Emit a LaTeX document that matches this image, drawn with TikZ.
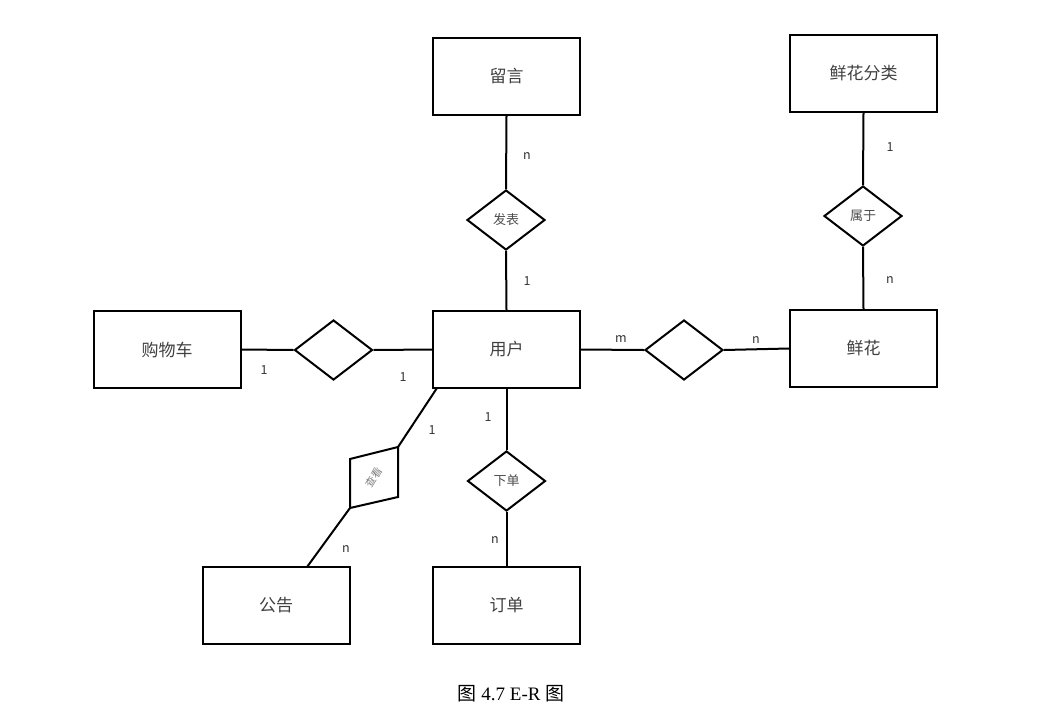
\documentclass[tikz,border=0pt]{standalone}
\usepackage{fontspec}
\setmainfont{Liberation Serif}
\newfontfamily\cjk{Noto Sans CJK SC}
\usetikzlibrary{shapes.geometric}
\begin{document}
\begin{tikzpicture}[x=1pt,y=-1pt,
  ent/.style={draw,line width=2pt,minimum width=147pt,minimum height=77pt,inner sep=0pt,font=\cjk\fontsize{17}{17}\selectfont,text=black!75},
  rel/.style={draw,line width=2pt,diamond,aspect=1.3,minimum width=78pt,minimum height=60pt,inner sep=0pt,font=\cjk\fontsize{13}{13}\selectfont,text=black!70},
  conn/.style={line width=2pt},
  lab/.style={font=\cjk\fontsize{12.5}{12.5}\selectfont,text=black!80}]
\useasboundingbox (0,0) rectangle (1042,710);
% entities
\node[ent] (ly) at (506.5,76.5) {留言};
\node[ent] (fl) at (863.5,73.5) {鲜花分类};
\node[ent] (gwc) at (167,349.5) {购物车};
\node[ent] (yh) at (506.5,349.5) {用户};
\node[ent] (xh) at (863.5,348.5) {鲜花};
\node[ent] (gg) at (276,605.5) {公告};
\node[ent] (dd) at (506.5,605.5) {订单};
% relationships
\node[rel] (fb) at (506,220) {发表};
\node[rel] (sy) at (863,216) {属于};
\node[rel] (r1) at (333.5,350) {};
\node[rel] (r2) at (684,350) {};
\node[rel] (xd) at (506.5,481) {下单};
% skewed diamond
\coordinate (ck1) at (398,447);
\coordinate (ck2) at (398,497);
\coordinate (ck3) at (350,508);
\coordinate (ck4) at (350,459);
\draw[line width=2pt,line join=miter] (ck1) -- (ck2) -- (ck3) -- (ck4) -- cycle;
\node[font=\cjk\fontsize{10.5}{10.5}\selectfont,text=black!50,rotate=58,inner sep=0pt] (ck) at (374,477.5) {查看};
\coordinate (yhc) at (437,388);
\coordinate (ggc) at (307,567);
% connectors
\draw[conn] (ly.south) -- (fb.north);
\draw[conn] (fb.south) -- (yh.north);
\draw[conn] (fl.south) -- (sy.north);
\draw[conn] (sy.south) -- (xh.north);
\draw[conn] (gwc.east) -- (r1.west);
\draw[conn] (r1.east) -- (yh.west);
\draw[conn] (yh.east) -- (r2.west);
\draw[conn] (r2.east) -- (xh.west);
\draw[conn] (yh.south) -- (xd.north);
\draw[conn] (xd.south) -- (dd.north);
\draw[conn] (yhc) -- (ck1);
\draw[conn] (ck3) -- (ggc);
% labels
\node[lab] (l1) at (527,156) {n};
\node[lab] (l2) at (527,281) {1};
\node[lab] (l3) at (890,147) {1};
\node[lab] (l4) at (890,280) {n};
\node[lab] (l5) at (264,370) {1};
\node[lab] (l6) at (403,377) {1};
\node[lab] (l7) at (621,339) {m};
\node[lab] (l8) at (756,340) {n};
\node[lab] (l9) at (488,417) {1};
\node[lab] (l10) at (495,540) {n};
\node[lab] (l11) at (432,430) {1};
\node[lab] (l12) at (346,549) {n};
% caption
\node[font=\fontsize{19}{19}\selectfont] (cap) at (511,694) {{\cjk 图} 4.7 E-R {\cjk 图}};
\end{tikzpicture}
\end{document}
